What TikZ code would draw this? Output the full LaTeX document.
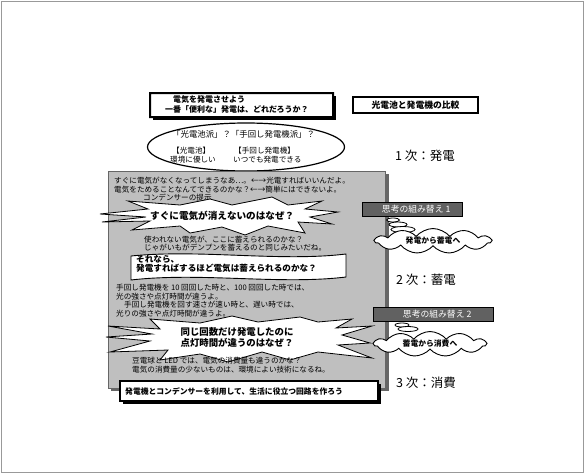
\documentclass[tikz,border=0pt]{standalone}
\usepackage{fontspec}
\newfontfamily\jp{Noto Sans CJK JP}
\usetikzlibrary{shapes.symbols,shapes.geometric}
\tikzset{
  txt/.style={font=\jp\fontsize{7.6}{9}\selectfont, anchor=west, inner sep=0pt},
  btxt/.style={font=\jp\bfseries\fontsize{8}{9.5}\selectfont, anchor=west, inner sep=0pt},
  bigtxt/.style={font=\jp\fontsize{12.5}{14}\selectfont, anchor=west, inner sep=0pt},
  burst/.style={draw=black, line width=0.8pt, fill=white},
  thinkbox/.style={draw=black, fill=black!62, text=white, font=\jp\fontsize{8.8}{10}\selectfont, inner sep=0pt, anchor=west, minimum height=14pt},
  bubble/.style={cloud, cloud puffs=11, cloud puff arc=100, aspect=5, draw=black, line width=0.9pt, fill=white, inner sep=0pt, font=\jp\bfseries\fontsize{7.8}{9}\selectfont},
  puff/.style={ellipse, draw=black, line width=0.8pt, fill=white, inner sep=0pt},
  framebox/.style={rectangle, fill=white, inner sep=0pt, anchor=north west},
  shadowbox/.style={rectangle, fill=black, inner sep=0pt, anchor=north west},
  rim/.style={fill=black, even odd rule}
}
\begin{document}
\begin{tikzpicture}[x=1pt, y=-1pt]
\useasboundingbox (0,0) rectangle (585,474);
\draw[black!40, line width=0.8pt] (1.5,1.5) rectangle (583.5,472.5);

% title box
\node[shadowbox, minimum width=183pt, minimum height=24pt] (t0s) at (152.5,95.5) {};
\node[framebox, minimum width=183pt, minimum height=24pt] (t0) at (150,93) {};
\fill[rim] (149,92) rectangle (334,118) (151,94) rectangle (332,116);
\node[btxt] (t1) at (173,100) {電気を発電させよう};
\node[btxt] (t2) at (165,109) {一番「便利な」発電は、どれだろうか？};

% comparison box
\node[framebox, minimum width=125pt, minimum height=16pt, anchor=center, font=\jp\bfseries\fontsize{8.8}{10}\selectfont] (cmp) at (415.5,105) {光電池と発電機の比較};
\fill[rim] (352.2,96.2) rectangle (478.8,113.8) (353.8,97.8) rectangle (477.2,112.2);

% ellipse
\node[ellipse, draw=black, line width=1.2pt, fill=white, minimum width=197pt, minimum height=48pt, inner sep=0pt] (ell) at (246,147) {};
\node[btxt, font=\jp\fontsize{8.4}{10}\selectfont] (e1) at (172,134) {「光電池派」？「手回し発電機派」？};
\node[txt] (e2) at (172,151) {【光電池】};
\node[txt] (e3) at (234,151) {【手回し発電機】};
\node[txt] (e4) at (170,159.5) {環境に優しい};
\node[txt] (e5) at (233,159.5) {いつでも発電できる};

\node[bigtxt] (s1) at (395,156) {1 次：発電};
\node[bigtxt] (s2) at (396,280) {2 次：蓄電};
\node[bigtxt] (s3) at (396,383) {3 次：消費};

% gray panel
\fill[black!60] (111,174) -- (389,174) -- (389,391) -- (111,391) -- cycle;
\fill[black!25] (108,171) -- (385,171) -- (385,388) -- (108,388) -- cycle;
\draw[black!60, line width=0.7pt] (108,171) -- (385,171) -- (385,388) -- (108,388) -- cycle;

\node[txt] (p1) at (114,181) {すぐに電気がなくなってしまうなあ…。←→光電すればいいんだよ。};
\node[txt] (p2) at (114,189.5) {電気をためることなんてできるのかな？←→簡単にはできないよ。};
\node[txt] (p3) at (143,197.5) {コンデンサーの提示};

% burst 1
\draw[burst] (100,214) -- (148,209) -- (128,201) -- (180,205) -- (210,199) -- (232,205) -- (272,197) -- (288,205) -- (322,201) -- (305,209) -- (338,212) -- (310,217) -- (332,224) -- (298,222) -- (305,233) -- (268,226) -- (245,235) -- (222,227) -- (190,233) -- (180,226) -- (132,230) -- (150,221) -- (102,222) -- (146,217) -- cycle;
\node[btxt, font=\jp\bfseries\fontsize{9.6}{11}\selectfont] (b1) at (150,215.5) {すぐに電気が消えないのはなぜ？};

% thinking 1
\node[thinkbox, minimum width=100pt] (k1) at (362,209) {\hspace*{8pt}思考の組み替え 1\hfill};
\node[puff, minimum width=13pt, minimum height=4pt] (q1) at (393,220) {};
\node[puff, minimum width=18pt, minimum height=5pt] (q2) at (398,224.5) {};
\node[puff, minimum width=24pt, minimum height=6pt] (q3) at (403,229.5) {};
\node[bubble, minimum width=116pt, minimum height=23pt] (c1) at (433,241) {発電から蓄電へ};

\node[txt] (p4) at (144,240) {使われない電気が、ここに蓄えられるのかな？};
\node[txt] (p5) at (144,248) {じゃがいもがデンプンを蓄えるのと同じみたいだね。};

% banner
\draw[black, line width=0.9pt, fill=white] (131,256) .. controls (200,249) and (280,262) .. (346,254) -- (346,277) .. controls (280,285) and (200,272) .. (131,280) -- cycle;
\node[btxt, font=\jp\bfseries\fontsize{8.6}{10}\selectfont] (w1) at (136,259) {それなら、};
\node[btxt, font=\jp\bfseries\fontsize{8.6}{10}\selectfont] (w2) at (136,268.5) {発電すればするほど電気は蓄えられるのかな？};

\node[txt] (p6) at (116,288) {手回し発電機を 10 回回した時と、100 回回した時では、};
\node[txt] (p7) at (116,296.5) {光の強さや点灯時間が違うよ。};
\node[txt] (p8) at (124,305) {手回し発電機を回す速さが速い時と、遅い時では、};
\node[txt] (p9) at (116,313.5) {光りの強さや点灯時間が違うよ。};

% burst 2
\draw[burst] (108,326) -- (160,329) -- (150,319) -- (200,323) -- (232,316) -- (258,322) -- (300,317) -- (318,322) -- (352,319) -- (336,328) -- (372,326) -- (342,335) -- (370,343) -- (338,345) -- (372,358) -- (318,352) -- (290,360) -- (262,352) -- (228,362) -- (200,354) -- (160,360) -- (168,350) -- (110,352) -- (150,341) -- (106,337) -- (152,334) -- cycle;
\node[font=\jp\bfseries\fontsize{9.4}{11}\selectfont, inner sep=0pt] (b2) at (237,332) {同じ回数だけ発電したのに};
\node[font=\jp\bfseries\fontsize{9.4}{11}\selectfont, inner sep=0pt] (b3) at (237,343) {点灯時間が違うのはなぜ？};

% thinking 2
\node[thinkbox, minimum width=120pt] (k2) at (373,314) {\hspace*{8pt}思考の組み替え 2\hfill};
\node[puff, minimum width=14pt, minimum height=4pt] (q4) at (402,325) {};
\node[puff, minimum width=20pt, minimum height=5pt] (q5) at (408,329) {};
\node[bubble, minimum width=112pt, minimum height=24pt] (c2) at (430,344) {蓄電から消費へ};

\node[txt] (p10) at (132,361) {豆電球と LED では、電気の消費量も違うのかな？};
\node[txt] (p11) at (132,369.5) {電気の消費量の少ないものは、環境によい技術になるね。};

% bottom box
\node[shadowbox, minimum width=258pt, minimum height=20pt] (bs) at (122.5,383.5) {};
\node[framebox, minimum width=258pt, minimum height=20pt] (bb) at (120,381) {};
\fill[rim] (119.2,380.2) rectangle (378.8,401.8) (120.8,381.8) rectangle (377.2,400.2);
\node[btxt, font=\jp\bfseries\fontsize{7.8}{9}\selectfont] (bt) at (125,391) {発電機とコンデンサーを利用して、生活に役立つ回路を作ろう};
\end{tikzpicture}
\end{document}
